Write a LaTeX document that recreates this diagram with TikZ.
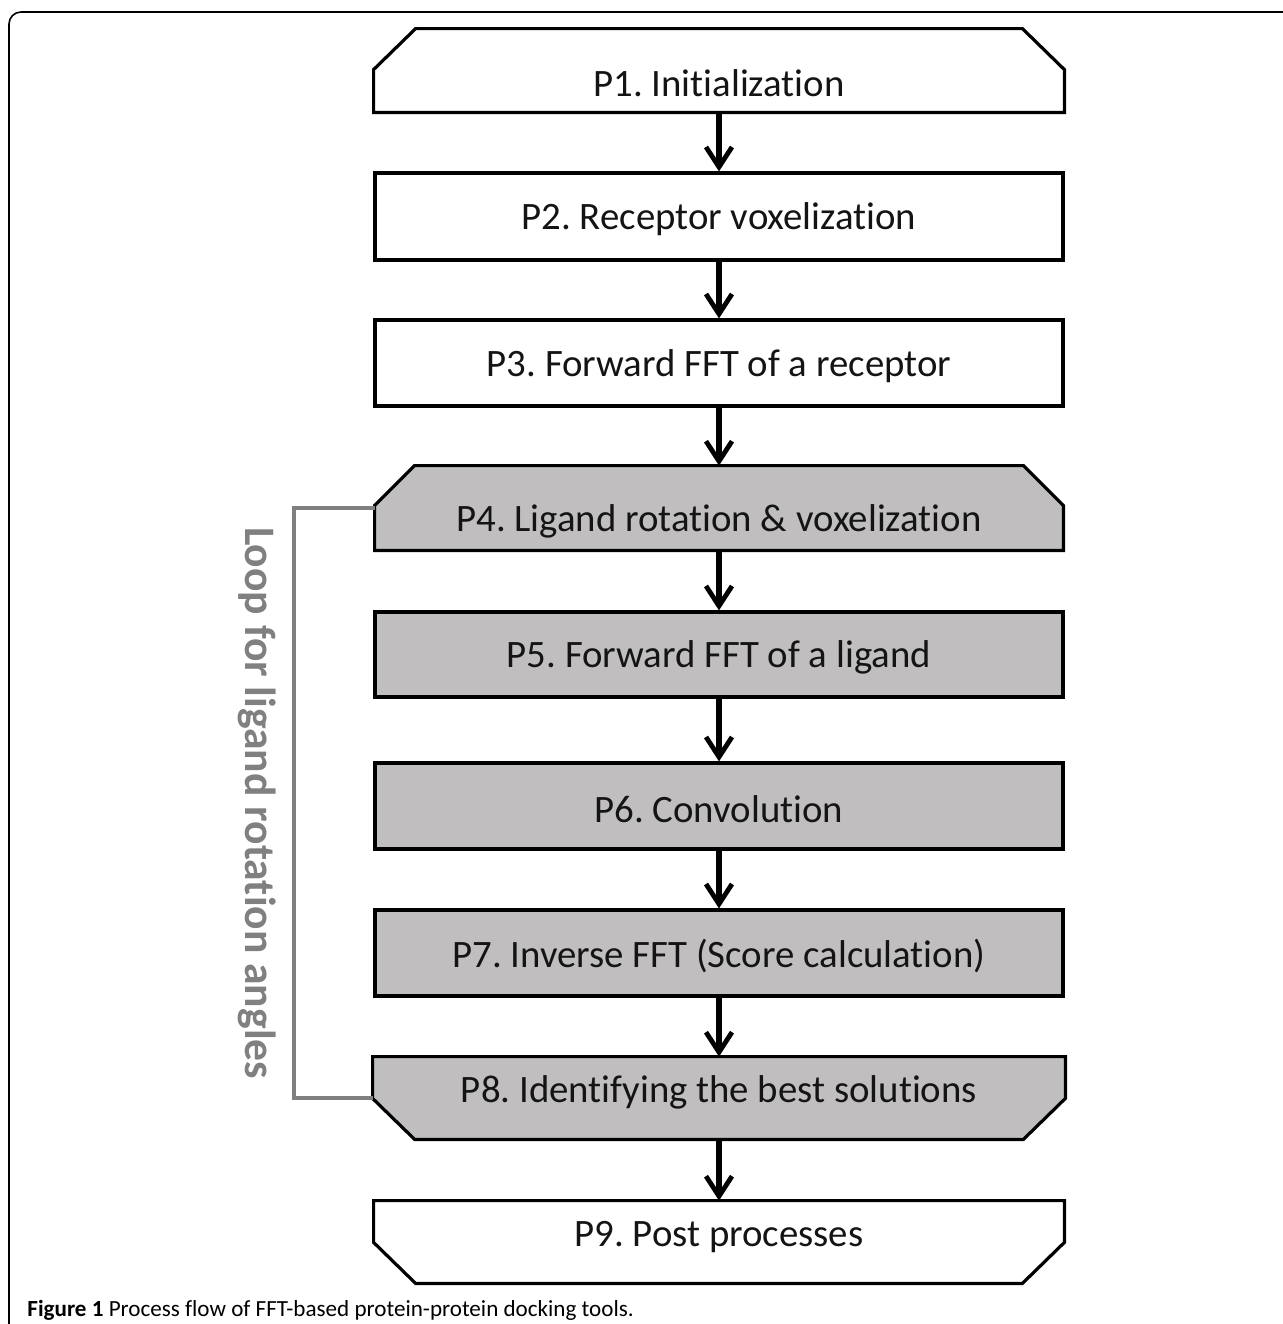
\documentclass[tikz,border=0pt]{standalone}
\usepackage{fontspec}
\setmainfont[Ligatures=NoCommon]{Carlito}
\usetikzlibrary{arrows.meta,calc}
\definecolor{boxgray}{RGB}{192,190,191}
\definecolor{loopgray}{RGB}{128,128,128}
\definecolor{txt}{RGB}{20,20,20}
\frenchspacing
\begin{document}
\begin{tikzpicture}[x=0.5pt,y=-0.5pt,
  boxline/.style={line width=1.6pt,line join=miter},
  plainbox/.style={draw,boxline,rectangle,minimum width=344pt,minimum height=43pt,inner sep=0pt},
  shadebox/.style={plainbox,fill=boxgray},
  ghost/.style={rectangle,minimum width=345pt,minimum height=41.5pt,inner sep=0pt},
  lbl/.style={font=\fontsize{19.4}{24}\selectfont,text=txt,inner sep=0pt},
  flow/.style={line width=2.6pt,-{Straight Barb[length=10pt,width=13pt,line width=2.4pt]}},
  loop/.style={draw=loopgray,line width=2pt}]
\useasboundingbox (0,0) rectangle (1282,1324);
\fill[white] (0,0) rectangle (1282,1324);
% outer frame (only top and left edges visible)
\draw[line width=0.8pt,rounded corners=6pt] (9,1330) -- (9,12) -- (1290,12);

% boxes
\node[ghost] (p1) at (719,70.5) {};
\node[plainbox,minimum height=43.5pt] (p2) at (719,216.5) {};
\node[plainbox] (p3) at (719,363) {};
\node[ghost,minimum width=344pt,minimum height=42pt] (p4) at (719,508) {};
\node[shadebox,minimum height=42.5pt] (p5) at (719,654.5) {};
\node[shadebox] (p6) at (719,806) {};
\node[shadebox] (p7) at (719,953) {};
\node[ghost,minimum width=346pt,minimum height=41pt] (p8) at (719,1098) {};
\node[ghost,minimum width=345pt,minimum height=41pt] (p9) at (719,1242) {};

% chamfered outlines
\draw[boxline] (p1.south west) -- ($(p1.north west)+(0,41)$) -- ($(p1.north west)+(42,0)$)
  -- ($(p1.north east)+(-42,0)$) -- ($(p1.north east)+(0,41)$) -- (p1.south east) -- cycle;
\draw[boxline,fill=boxgray] (p4.south west) -- ($(p4.north west)+(0,40)$) -- ($(p4.north west)+(40,0)$)
  -- ($(p4.north east)+(-40,0)$) -- ($(p4.north east)+(0,40)$) -- (p4.south east) -- cycle;
\draw[boxline,fill=boxgray] (p8.north west) -- ($(p8.south west)+(0,-41)$) -- ($(p8.south west)+(42,0)$)
  -- ($(p8.south east)+(-42,0)$) -- ($(p8.south east)+(0,-41)$) -- (p8.north east) -- cycle;
\draw[boxline] (p9.north west) -- ($(p9.south west)+(0,-41)$) -- ($(p9.south west)+(42,0)$)
  -- ($(p9.south east)+(-42,0)$) -- ($(p9.south east)+(0,-41)$) -- (p9.north east) -- cycle;

% labels
\node[lbl] (t1) at ($(p1.center)+(0,13)$) {P1. Initialization};
\node[lbl] (t2) at ($(p2.center)+(0,3)$) {P2. Receptor voxelization};
\node[lbl] (t3) at ($(p3.center)+(0,3)$) {P3. Forward FFT of a receptor};
\node[lbl] (t4) at ($(p4.center)+(0,13)$) {P4. Ligand rotation \& voxelization};
\node[lbl] (t5) at ($(p5.center)+(0,3)$) {P5. Forward FFT of a ligand};
\node[lbl] (t6) at ($(p6.center)+(0,3)$) {P6. Convolution};
\node[lbl] (t7) at ($(p7.center)+(0,3)$) {P7. Inverse FFT (Score calculation)};
\node[lbl] (t8) at ($(p8.center)+(0,-6)$) {P8. Identifying the best solutions};
\node[lbl] (t9) at ($(p9.center)+(0,-5)$) {P9. Post processes};

% arrows
\draw[flow] (p1.south) -- (p2.north);
\draw[flow] (p2.south) -- (p3.north);
\draw[flow] (p3.south) -- (p4.north);
\draw[flow] (p4.south) -- (p5.north);
\draw[flow] (p5.south) -- (p6.north);
\draw[flow] (p6.south) -- (p7.north);
\draw[flow] (p7.south) -- (p8.north);
\draw[flow] (p8.south) -- (p9.north);

% loop
\coordinate (lc) at (294,508);
\draw[loop] (p4.west) -- (lc) |- (p8.west);
\node[rotate=-90,text=loopgray,font=\bfseries\fontsize{21.8}{26}\selectfont,inner sep=0pt] (looplbl) at (257,803) {Loop for ligand rotation angles};

% caption
\node[anchor=base west,inner sep=0pt,font=\fontsize{11.55}{13}\selectfont] (cap) at (27,1316) {\textbf{Figure 1} Process flow of FFT-based protein-protein docking tools.};
\end{tikzpicture}
\end{document}
